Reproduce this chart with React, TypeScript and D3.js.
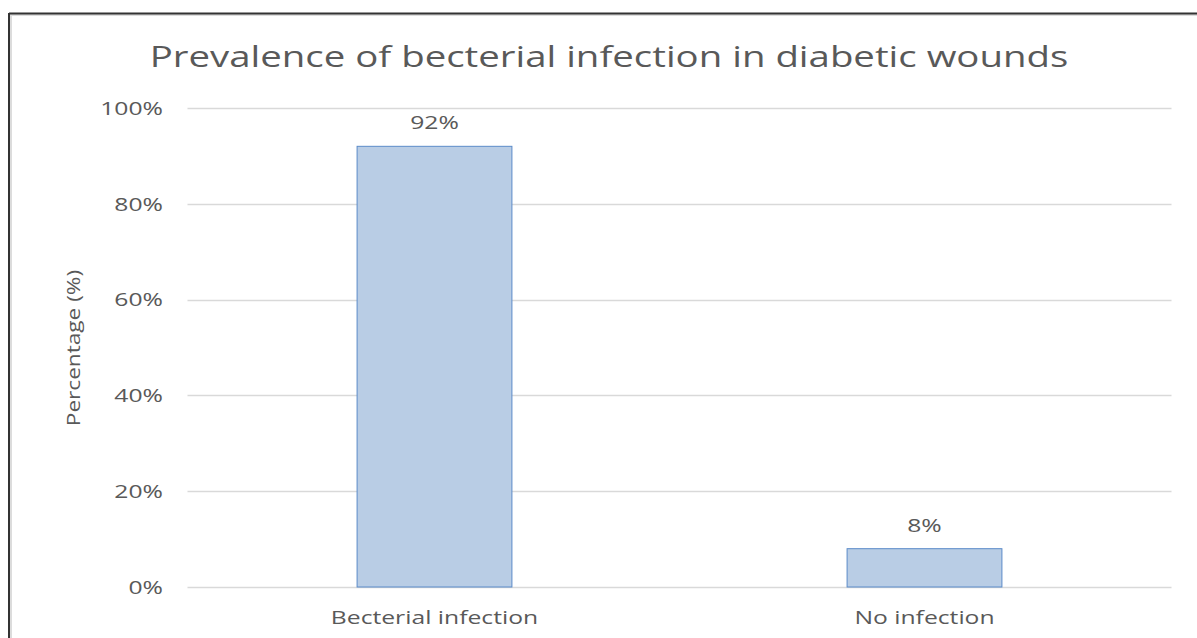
import React from "react";
import * as d3 from "d3";

const categories = ["Becterial infection", "No infection"];
const values = [92, 8];
const yTicks = [0, 20, 40, 60, 80, 100];
const title = "Prevalence of becterial infection in diabetic wounds";
const yAxisTitle = "Percentage (%)";

const W = 1197;
const H = 638;
const FONT = "'Open Sans', sans-serif";
const TEXT = "#595959";
const SX = 1.3; // horizontal stretch of the reference's text
const FS = 19;

function StretchText(props: {
  x: number;
  y: number;
  anchor: "start" | "middle" | "end";
  size: number;
  sx: number;
  children: React.ReactNode;
  dy?: string;
}) {
  return (
    <text
      transform={`translate(${props.x},${props.y}) scale(${props.sx},1)`}
      dy={props.dy}
      textAnchor={props.anchor}
      fontFamily={FONT}
      fontSize={props.size}
      fill={TEXT}
    >
      {props.children}
    </text>
  );
}

export default function App() {
  const plotLeft = 189.5;
  const plotRight = 1169.5;
  const y = d3.scaleLinear().domain([0, 100]).range([587, 108]);
  const x = d3
    .scaleBand<string>()
    .domain(categories)
    .range([plotLeft, plotRight])
    .paddingInner(0.684)
    .paddingOuter(0.342);

  return (
    <svg
      width={W}
      height={H}
      style={{ position: "fixed", left: 0, top: 0, background: "#fff" }}
    >
      {/* chart border */}
      <rect x={11} y={15} width={W + 20} height={H + 20} fill="#fff" stroke="#dcdcdc" strokeWidth={2} />
      <line x1={9} y1={13} x2={9} y2={H} stroke="#333" strokeWidth={2} />
      <line x1={9} y1={13.5} x2={W} y2={13.5} stroke="#333" strokeWidth={2} />

      <StretchText x={609} y={67} anchor="middle" size={30} sx={1.28}>
        {title}
      </StretchText>

      {yTicks.map((t) => (
        <g key={t}>
          <line
            x1={plotLeft - 2}
            x2={plotRight + 2}
            y1={Math.round(y(t)) + 0.5}
            y2={Math.round(y(t)) + 0.5}
            stroke="#d9d9d9"
            strokeWidth={1.3}
          />
          <StretchText x={163} y={y(t)} dy="0.36em" anchor="end" size={FS} sx={SX}>
            {t}%
          </StretchText>
        </g>
      ))}

      <text
        transform={`translate(80, 348) rotate(-90) scale(1.19,1)`}
        textAnchor="middle"
        fontFamily={FONT}
        fontSize={FS}
        fill={TEXT}
      >
        {yAxisTitle}
      </text>

      {categories.map((c, i) => {
        const bx = x(c)!;
        const bw = x.bandwidth();
        const cx = bx + bw / 2;
        return (
          <g key={c}>
            <rect
              x={bx}
              y={y(values[i])}
              width={bw}
              height={y(0) - y(values[i])}
              fill="#b9cde5"
              stroke="#5b8bc9"
              strokeWidth={1}
            />
            <StretchText x={cx} y={y(values[i]) - 17} anchor="middle" size={FS} sx={SX}>
              {values[i]}%
            </StretchText>
            <StretchText x={cx} y={624} anchor="middle" size={FS} sx={SX}>
              {c}
            </StretchText>
          </g>
        );
      })}
    </svg>
  );
}
